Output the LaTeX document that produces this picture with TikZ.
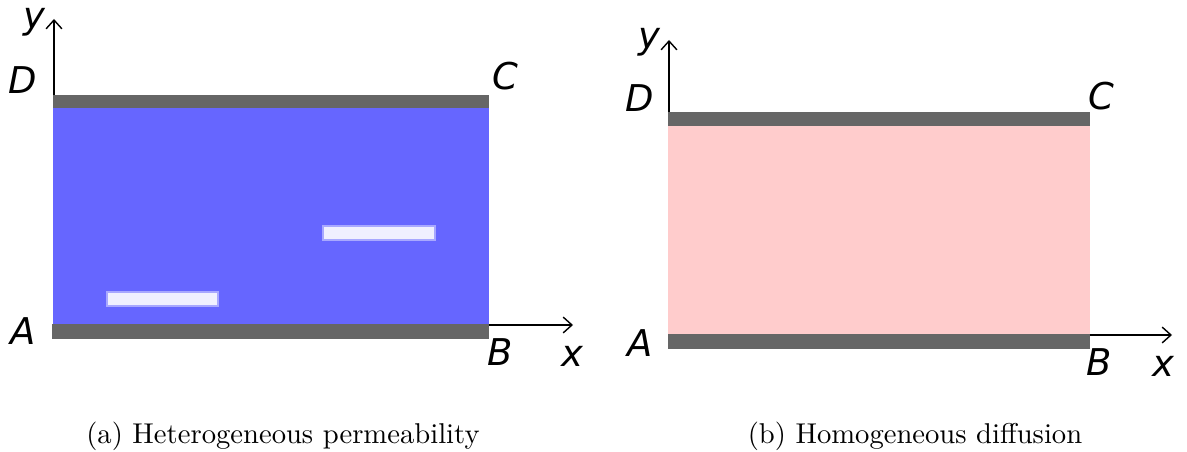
\documentclass[tikz,border=0pt]{standalone}
\usepackage{fontspec}
\newfontfamily\labfont{DejaVu Sans}
\usetikzlibrary{arrows.meta}
\definecolor{bluefill}{HTML}{6666FF}
\definecolor{barcol}{HTML}{666666}
\definecolor{pinkfill}{HTML}{FFCCCC}
\definecolor{slotfill}{HTML}{F0F0FF}
\definecolor{slotedge}{HTML}{A8A8FF}
\begin{document}
\begin{tikzpicture}[x=0.02cm,y=-0.02cm,
  lab/.style={font=\labfont\itshape\fontsize{21}{24}\selectfont, inner sep=0pt},
  captext/.style={font=\fontsize{10}{12}\selectfont, inner sep=0pt, scale=1.63},
  axis/.style={draw=black, line width=0.8pt, -{Straight Barb[length=5pt,width=9pt,line width=0.8pt]}},
  wall/.style={fill=barcol, draw=none},
  slot/.style={fill=slotfill, draw=slotedge, line width=0.6pt}]
\useasboundingbox (0,0) rectangle (1187,452);
% ---- left panel ----
\fill[bluefill] (53,108) rectangle (489,325);
\coordinate (yl0) at (54,108);
\coordinate (yl1) at (54,19);
\draw[axis] (yl0) -- (yl1);
\fill[wall] (53,95) rectangle (489,108);
\fill[wall] (52,324) rectangle (489,339);
\coordinate (xl0) at (489,325);
\coordinate (xl1) at (573,325);
\draw[axis] (xl0) -- (xl1);
\filldraw[slot] (107,292) rectangle (218,306);
\filldraw[slot] (323,226) rectangle (435,240);
\node[lab] (ly) at (34,22) {y};
\node[lab] (lD) at (23,80) {D};
\node[lab] (lC) at (505,76) {C};
\node[lab] (lA) at (23,331) {A};
\node[lab] (lB) at (500,352) {B};
\node[lab] (lx) at (572,356) {x};
\node[captext] (capa) at (283,436) {(a) Heterogeneous permeability};
% ---- right panel ----
\fill[pinkfill] (668,126) rectangle (1090,335);
\coordinate (yr0) at (669,126);
\coordinate (yr1) at (669,40);
\draw[axis] (yr0) -- (yr1);
\fill[wall] (668,112) rectangle (1090,126);
\fill[wall] (668,334) rectangle (1090,349);
\coordinate (xr0) at (1090,335);
\coordinate (xr1) at (1172,335);
\draw[axis] (xr0) -- (xr1);
\node[lab] (ry) at (649,42) {y};
\node[lab] (rD) at (640,98) {D};
\node[lab] (rC) at (1101,96) {C};
\node[lab] (rA) at (640,343) {A};
\node[lab] (rB) at (1099,362) {B};
\node[lab] (rx) at (1163,366) {x};
\node[captext] (capb) at (915,436) {(b) Homogeneous diffusion};
\end{tikzpicture}
\end{document}
